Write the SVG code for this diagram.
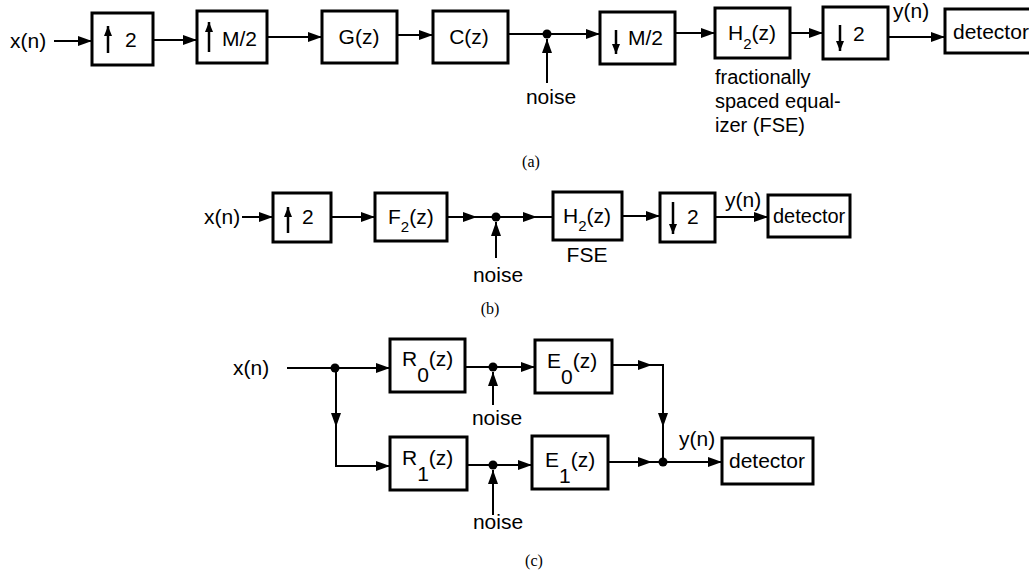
<svg xmlns="http://www.w3.org/2000/svg" width="1029" height="574" viewBox="0 0 1029 574">
<defs>
<marker id="ah" viewBox="0 0 14 10" refX="14" refY="5" markerWidth="14" markerHeight="10" markerUnits="userSpaceOnUse" orient="auto"><path d="M0,0 L14,5 L0,10 z" fill="#000"/></marker>
<marker id="ahs" viewBox="0 0 10 8" refX="10" refY="4" markerWidth="10" markerHeight="8" markerUnits="userSpaceOnUse" orient="auto"><path d="M0,0 L10,4 L0,8 z" fill="#000"/></marker>
</defs>
<style>
.box{fill:#fff;stroke:#000;stroke-width:3}
.c{stroke:#000;stroke-width:2;fill:none}
.a{stroke:#000;stroke-width:2;fill:none;marker-end:url(#ah)}
.ia{stroke:#000;stroke-width:2.5;marker-end:url(#ahs)}
text{font-family:"Liberation Sans",Arial,sans-serif;font-size:21px;fill:#000}
.cap{font-family:"Liberation Serif","Times New Roman",serif;font-size:16px}
.m{text-anchor:middle}
.s{font-size:20px}
.dot{fill:#000}
</style>
<rect width="1029" height="574" fill="#fff"/>

<g id="connectors">
<!-- (a) -->
<line x1="54" y1="41" x2="92" y2="41" class="a"/>
<line x1="153" y1="40" x2="197" y2="40" class="a"/>
<line x1="267" y1="37" x2="322" y2="37" class="a"/>
<line x1="397" y1="35" x2="433" y2="35" class="a"/>
<line x1="508" y1="34" x2="547" y2="34" class="c"/>
<line x1="547" y1="34" x2="600" y2="34" class="a"/>
<line x1="547" y1="83" x2="547" y2="39" class="a"/>
<circle cx="547" cy="34" r="4.5" class="dot"/>
<line x1="675" y1="33" x2="715" y2="33" class="a"/>
<line x1="790" y1="33" x2="823" y2="33" class="a"/>
<line x1="888" y1="37" x2="945" y2="37" class="a"/>
<!-- (b) -->
<line x1="242" y1="217" x2="273" y2="217" class="a"/>
<line x1="331" y1="217" x2="375" y2="217" class="a"/>
<line x1="447" y1="217" x2="477" y2="217" class="a"/>
<line x1="477" y1="217" x2="496" y2="217" class="c"/>
<line x1="496" y1="217" x2="537" y2="217" class="a"/>
<line x1="537" y1="217" x2="553" y2="217" class="c"/>
<line x1="496" y1="258" x2="496" y2="222" class="a"/>
<circle cx="496" cy="217" r="4.5" class="dot"/>
<line x1="622" y1="216" x2="660" y2="216" class="a"/>
<line x1="715" y1="217" x2="768" y2="217" class="a"/>
<!-- (c) -->
<line x1="287" y1="368" x2="335" y2="368" class="c"/>
<line x1="335" y1="368" x2="390" y2="368" class="a"/>
<line x1="336" y1="368" x2="336" y2="427" class="a"/>
<polyline points="336,427 336,466 390,466" class="a"/>
<circle cx="335" cy="368" r="4.5" class="dot"/>
<line x1="465" y1="367" x2="493" y2="367" class="c"/>
<line x1="493" y1="367" x2="535" y2="367" class="a"/>
<line x1="493" y1="405" x2="493" y2="372" class="a"/>
<circle cx="493" cy="367" r="4.5" class="dot"/>
<line x1="467" y1="465" x2="493" y2="465" class="c"/>
<line x1="493" y1="465" x2="532" y2="465" class="a"/>
<line x1="493" y1="515" x2="493" y2="470" class="a"/>
<circle cx="493" cy="465" r="4.5" class="dot"/>
<line x1="612" y1="365" x2="652" y2="365" class="a"/>
<polyline points="652,365 663,365 663,372" class="c"/>
<line x1="663" y1="365" x2="663" y2="427" class="a"/>
<line x1="663" y1="427" x2="663" y2="462" class="c"/>
<line x1="608" y1="462" x2="652" y2="462" class="a"/>
<line x1="652" y1="462" x2="663" y2="462" class="c"/>
<line x1="663" y1="462" x2="722" y2="462" class="a"/>
<circle cx="663" cy="462" r="4.5" class="dot"/>
</g>

<!-- (a) nodes -->
<g id="a-up2"><rect x="92" y="13" width="61" height="52" class="box"/><line x1="108" y1="53" x2="108" y2="26" class="ia"/><text x="125" y="47">2</text></g>
<g id="a-upM2"><rect x="197" y="11" width="70" height="52" class="box"/><line x1="209" y1="52" x2="209" y2="22" class="ia"/><text x="222" y="46">M/2</text></g>
<g id="a-G"><rect x="322" y="11" width="75" height="52" class="box"/><text x="359" y="44" class="m">G(z)</text></g>
<g id="a-C"><rect x="433" y="11" width="75" height="52" class="box"/><text x="469" y="44" class="m">C(z)</text></g>
<g id="a-dnM2"><rect x="600" y="12" width="75" height="52" class="box"/><line x1="616" y1="30" x2="616" y2="54" class="ia"/><text x="628" y="45">M/2</text></g>
<g id="a-H2"><rect x="715" y="8" width="75" height="50" class="box"/><text x="728" y="40">H<tspan dy="9" font-size="15">2</tspan><tspan dy="-9">(z)</tspan></text></g>
<g id="a-dn2"><rect x="823" y="7" width="65" height="52" class="box"/><line x1="840" y1="25" x2="840" y2="51" class="ia"/><text x="853" y="41">2</text></g>
<g id="a-det"><rect x="945" y="9" width="100" height="44" class="box"/><text x="953" y="39" font-size="22">detector</text></g>
<g id="a-labels">
<text x="10" y="48">x(n)</text>
<text x="893" y="18">y(n)</text>
<text x="551" y="104" class="m">noise</text>
<text x="715" y="84" class="s">fractionally</text>
<text x="715" y="108" class="s">spaced equal-</text>
<text x="715" y="132" class="s">izer (FSE)</text>
<text x="531" y="167" class="cap m">(a)</text>
</g>

<!-- (b) nodes -->
<g id="b-up2"><rect x="273" y="193" width="58" height="49" class="box"/><line x1="288" y1="233" x2="288" y2="207" class="ia"/><text x="302" y="224">2</text></g>
<g id="b-F2"><rect x="375" y="193" width="72" height="48" class="box"/><text x="388" y="224">F<tspan dy="8" font-size="15">2</tspan><tspan dy="-8">(z)</tspan></text></g>
<g id="b-H2"><rect x="553" y="192" width="69" height="48" class="box"/><text x="563" y="223">H<tspan dy="8" font-size="15">2</tspan><tspan dy="-8">(z)</tspan></text></g>
<g id="b-dn2"><rect x="660" y="193" width="55" height="49" class="box"/><line x1="673" y1="202" x2="673" y2="234" class="ia"/><text x="687" y="224">2</text></g>
<g id="b-det"><rect x="768" y="195" width="82" height="42" class="box"/><text x="773" y="223" class="s">detector</text></g>
<g id="b-labels">
<text x="204" y="224">x(n)</text>
<text x="725" y="207">y(n)</text>
<text x="587" y="262" class="m">FSE</text>
<text x="498" y="282" class="m">noise</text>
<text x="490" y="314" class="cap m">(b)</text>
</g>

<!-- (c) nodes -->
<g id="c-R0"><rect x="390" y="339" width="75" height="53" class="box"/><text x="402" y="366">R<tspan dy="16">0</tspan><tspan dy="-16">(z)</tspan></text></g>
<g id="c-E0"><rect x="535" y="340" width="77" height="53" class="box"/><text x="547" y="368">E<tspan dy="16">0</tspan><tspan dy="-16">(z)</tspan></text></g>
<g id="c-R1"><rect x="390" y="437" width="77" height="53" class="box"/><text x="402" y="465">R<tspan dy="16">1</tspan><tspan dy="-16">(z)</tspan></text></g>
<g id="c-E1"><rect x="532" y="436" width="76" height="53" class="box"/><text x="545" y="467">E<tspan dy="16">1</tspan><tspan dy="-16">(z)</tspan></text></g>
<g id="c-det"><rect x="722" y="438" width="91" height="46" class="box"/><text x="729" y="468">detector</text></g>
<g id="c-labels">
<text x="233" y="375">x(n)</text>
<text x="679" y="446">y(n)</text>
<text x="497" y="425" class="m">noise</text>
<text x="498" y="529" class="m">noise</text>
<text x="534" y="566" class="cap m">(c)</text>
</g>
</svg>
